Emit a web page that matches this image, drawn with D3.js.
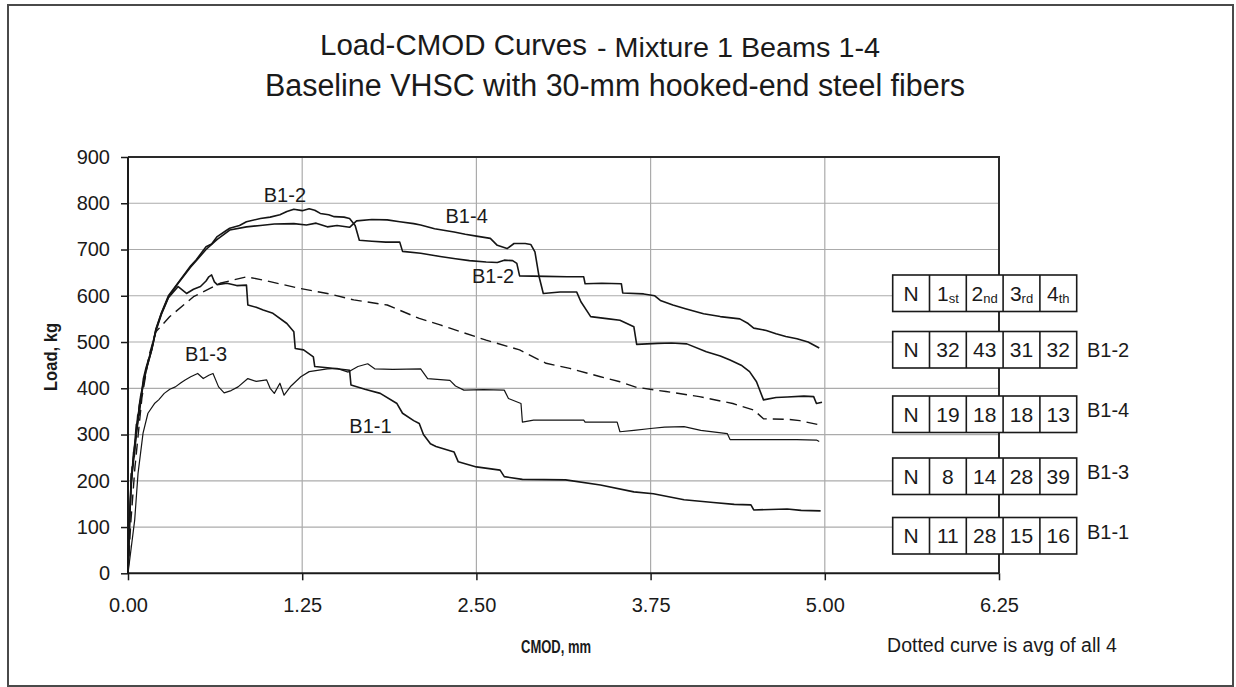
<!DOCTYPE html>
<html>
<head>
<meta charset="utf-8">
<script src="https://cdn.jsdelivr.net/npm/d3@7"></script>
<style>
  html, body { margin: 0; padding: 0; background: #fff; }
  svg { display: block; }
  text { font-family: "Liberation Sans", Arial, Helvetica, sans-serif; fill: #1a1a1a; }
</style>
</head>
<body>
<svg id="chart" width="1236" height="687"></svg>
<script>
// ---- data: CMOD (mm) vs load (kg) for each beam ----
const xTickValues = [0, 1.25, 2.5, 3.75, 5, 6.25];
const yTickValues = [0, 100, 200, 300, 400, 500, 600, 700, 800, 900];

const beamB12 = [
  [0,0],[0.01,110],[0.025,215],[0.02,180],[0.04,262],[0.035,232],[0.06,322],[0.055,292],[0.085,372],[0.08,342],
  [0.11,420],[0.13,445],[0.17,485],[0.2,528],[0.24,563],[0.29,600],[0.36,628],[0.45,665],[0.49,678],[0.56,706],
  [0.6,712],[0.64,728],[0.7,740],[0.73,746],[0.8,752],[0.85,760],[0.95,767],[1.02,770],[1.09,775],[1.14,782],
  [1.19,787],[1.25,784],[1.3,788],[1.34,785],[1.38,778],[1.44,775],[1.48,771],[1.55,770],[1.59,767],[1.63,752],
  [1.66,720],[1.75,718],[1.85,716],[1.95,716],[1.97,696],[2.1,692],[2.24,685],[2.35,680],[2.45,676],[2.57,673],
  [2.65,672],[2.7,677],[2.76,676],[2.79,670],[2.81,643],[3.0,642],[3.15,641],[3.27,641],[3.28,626],[3.4,627],
  [3.54,626],[3.55,606],[3.7,604],[3.78,600],[3.82,590],[3.91,580],[4.0,572],[4.13,561],[4.25,555],[4.39,550],
  [4.45,540],[4.49,530],[4.58,525],[4.65,518],[4.72,512],[4.8,507],[4.88,500],[4.96,487]
];

const beamB14 = [
  [0,0],[0.012,120],[0.03,230],[0.025,200],[0.05,282],[0.045,252],[0.07,342],[0.065,312],[0.09,382],[0.13,440],
  [0.17,483],[0.2,526],[0.24,562],[0.29,597],[0.36,627],[0.45,662],[0.49,676],[0.56,700],[0.64,722],[0.73,742],
  [0.85,749],[0.95,752],[1.05,755],[1.19,756],[1.28,753],[1.35,757],[1.43,749],[1.5,752],[1.59,748],[1.64,762],
  [1.75,765],[1.86,764],[1.95,760],[2.05,756],[2.1,753],[2.2,745],[2.34,738],[2.42,733],[2.5,729],[2.6,724],
  [2.65,709],[2.72,702],[2.77,713],[2.85,713],[2.89,711],[2.92,695],[2.95,641],[2.98,605],[3.1,608],[3.22,608],
  [3.25,587],[3.32,555],[3.45,550],[3.53,547],[3.63,533],[3.65,495],[3.8,497],[3.9,498],[4.01,496],[4.15,479],
  [4.25,470],[4.32,461],[4.4,450],[4.46,436],[4.51,414],[4.56,375],[4.65,380],[4.73,381],[4.85,383],[4.92,382],
  [4.94,367],[4.98,370]
];

const beamB13 = [
  [0,0],[0.048,115],[0.072,216],[0.108,303],[0.143,346],[0.19,367],[0.22,375],[0.26,389],[0.3,398],[0.34,403],
  [0.38,412],[0.41,418],[0.45,425],[0.5,432],[0.54,421],[0.58,428],[0.61,432],[0.65,403],[0.69,390],[0.74,395],
  [0.79,403],[0.86,421],[0.92,415],[0.995,418],[1.02,400],[1.05,389],[1.09,411],[1.12,385],[1.17,405],[1.24,425],
  [1.3,436],[1.43,442],[1.5,443],[1.58,435],[1.65,447],[1.72,453],[1.77,442],[1.9,441],[2.1,442],[2.15,421],
  [2.31,417],[2.35,405],[2.41,396],[2.55,397],[2.7,396],[2.73,378],[2.82,367],[2.83,327],[2.91,331],[3.1,331],
  [3.27,331],[3.28,327],[3.51,327],[3.53,306],[3.63,309],[3.75,313],[3.85,316],[3.99,317],[4.11,309],[4.3,302],
  [4.32,289],[4.58,289],[4.8,289],[4.94,288],[4.96,285]
];

const beamB11 = [
  [0,0],[0.012,115],[0.024,216],[0.02,190],[0.048,274],[0.04,250],[0.084,367],[0.13,439],[0.17,483],[0.2,524],
  [0.24,560],[0.29,596],[0.36,620],[0.42,605],[0.47,614],[0.52,620],[0.56,632],[0.58,641],[0.6,645],[0.62,630],
  [0.64,624],[0.71,627],[0.78,622],[0.85,623],[0.86,580],[0.92,575],[0.97,569],[1.04,562],[1.14,540],[1.19,522],
  [1.2,486],[1.26,483],[1.33,468],[1.34,447],[1.45,444],[1.59,439],[1.6,407],[1.7,398],[1.81,389],[1.93,367],
  [1.97,346],[2.05,330],[2.09,324],[2.12,300],[2.17,280],[2.21,274],[2.34,262],[2.37,241],[2.5,230],[2.67,223],
  [2.7,209],[2.83,203],[3.14,202],[3.39,191],[3.63,176],[3.77,172],[3.99,159],[4.2,153],[4.35,149],[4.47,148],
  [4.49,137],[4.73,139],[4.83,136],[4.97,135]
];

const beamAverage = [
  [0,0],[0.02,110],[0.05,230],[0.1,380],[0.15,470],[0.2,522],[0.3,555],[0.47,598],[0.66,627],[0.85,641],
  [0.97,634],[1.1,625],[1.23,616],[1.43,605],[1.62,591],[1.86,580],[2.09,551],[2.24,537],[2.31,530],[2.57,504],
  [2.81,483],[3.0,454],[3.17,443],[3.39,425],[3.53,414],[3.65,402],[3.86,393],[4.1,382],[4.34,367],[4.49,353],
  [4.56,334],[4.73,333],[4.82,330],[4.96,321]
];

const tableHeader = [["N",""],["1","st"],["2","nd"],["3","rd"],["4","th"]];
const tableBeams = ["B1-2", "B1-4", "B1-3", "B1-1"];
const tableCounts = [
  [32, 43, 31, 32],
  [19, 18, 18, 13],
  [8, 14, 28, 39],
  [11, 28, 15, 16]
];

// ---- layout ----
const svg = d3.select("#chart");
const plot = { left: 128, right: 999, top: 157, bottom: 573.3 };

const x = d3.scaleLinear().domain([0, 6.25]).range([plot.left, plot.right]);
const y = d3.scaleLinear().domain([0, 900]).range([plot.bottom, plot.top]);

// outer frame
svg.append("rect")
  .attr("x", 8).attr("y", 5).attr("width", 1225).attr("height", 681)
  .attr("fill", "#fff").attr("stroke", "#4a4a4a").attr("stroke-width", 2);

// titles
svg.append("text").attr("x", 320).attr("y", 55).attr("font-size", 30)
  .attr("textLength", 267).attr("lengthAdjust", "spacingAndGlyphs")
  .text("Load-CMOD Curves");
svg.append("text").attr("x", 597).attr("y", 57).attr("font-size", 28)
  .attr("textLength", 283).attr("lengthAdjust", "spacingAndGlyphs")
  .text("- Mixture 1 Beams 1-4");
svg.append("text").attr("x", 265).attr("y", 96).attr("font-size", 31)
  .attr("textLength", 700).attr("lengthAdjust", "spacingAndGlyphs")
  .text("Baseline VHSC with 30-mm hooked-end steel fibers");

// gridlines
const grid = svg.append("g");
grid.selectAll(".gy").data(yTickValues.filter(v => v > 0 && v < 900)).join("line")
  .attr("x1", plot.left).attr("x2", plot.right)
  .attr("y1", d => y(d)).attr("y2", d => y(d))
  .attr("stroke", "#ababab").attr("stroke-width", 1.2);
grid.selectAll(".gx").data(xTickValues.filter(v => v > 0 && v < 6.25)).join("line")
  .attr("x1", d => x(d)).attr("x2", d => x(d))
  .attr("y1", plot.top).attr("y2", plot.bottom)
  .attr("stroke", "#ababab").attr("stroke-width", 1.2);

// plot frame (top and right)
svg.append("path")
  .attr("d", `M${plot.left},${plot.top}H${plot.right}V${plot.bottom}`)
  .attr("fill", "none").attr("stroke", "#2a2a2a").attr("stroke-width", 2);

// axes
const yAxis = svg.append("g").attr("transform", `translate(${plot.left},0)`)
  .call(d3.axisLeft(y).tickValues(yTickValues).tickSize(7).tickPadding(11).tickFormat(d3.format("d")));
const xAxis = svg.append("g").attr("transform", `translate(0,${plot.bottom})`)
  .call(d3.axisBottom(x).tickValues(xTickValues).tickSize(7).tickPadding(18).tickFormat(d3.format(".2f")));
[yAxis, xAxis].forEach(a => {
  a.select(".domain").attr("stroke", "#1a1a1a").attr("stroke-width", 2);
  a.selectAll(".tick line").attr("stroke", "#1a1a1a").attr("stroke-width", 1.5);
  a.selectAll(".tick text").attr("font-size", 20).attr("fill", "#1a1a1a")
    .style("font-family", '"Liberation Sans", Arial, sans-serif');
});
yAxis.select(".domain").attr("d", `M0,${plot.top}V${plot.bottom}`);
xAxis.select(".domain").attr("d", `M${plot.left},0H${plot.right}`);

// axis titles
svg.append("text").attr("transform", `translate(57,357) rotate(-90)`)
  .attr("text-anchor", "middle").attr("font-size", 19).attr("font-weight", "bold")
  .attr("textLength", 68).attr("lengthAdjust", "spacingAndGlyphs")
  .text("Load, kg");
svg.append("text").attr("x", 556).attr("y", 653).attr("text-anchor", "middle")
  .attr("font-size", 19).attr("font-weight", "bold")
  .attr("textLength", 70).attr("lengthAdjust", "spacingAndGlyphs")
  .text("CMOD, mm");
svg.append("text").attr("x", 1002).attr("y", 652).attr("text-anchor", "middle")
  .attr("font-size", 19.5).text("Dotted curve is avg of all 4");

// count tables
const table = { left: 892.7, colW: 36.8, rowH: 36.5, tops: [275, 331.5, 396, 458, 517.5] };
const rows = [tableHeader].concat(tableCounts.map(r => [["N", ""]].concat(r.map(v => [String(v), ""]))));
const tg = svg.append("g");
rows.forEach((cells, i) => {
  const top = table.tops[i];
  const g = tg.append("g");
  g.append("rect").attr("x", table.left).attr("y", top)
    .attr("width", table.colW * cells.length).attr("height", table.rowH)
    .attr("fill", "#fff").attr("stroke", "#1a1a1a").attr("stroke-width", 1.6);
  g.selectAll("line").data(d3.range(1, cells.length)).join("line")
    .attr("x1", k => table.left + k * table.colW).attr("x2", k => table.left + k * table.colW)
    .attr("y1", top).attr("y2", top + table.rowH)
    .attr("stroke", "#1a1a1a").attr("stroke-width", 1.6);
  cells.forEach((c, k) => {
    const t = g.append("text").attr("x", table.left + (k + 0.5) * table.colW)
      .attr("y", top + table.rowH / 2 + 7.5).attr("text-anchor", "middle").attr("font-size", 21);
    t.append("tspan").text(c[0]);
    if (c[1]) t.append("tspan").attr("font-size", 13).attr("dy", 2).text(c[1]);
  });
  if (i > 0) {
    svg.append("text").attr("x", 1087).attr("y", top + table.rowH / 2 + 7 - (i === 1 ? 0 : 4))
      .attr("font-size", 20).text(tableBeams[i - 1]);
  }
});

// curves
const line = d3.line().x(d => x(d[0])).y(d => y(d[1]));
const curves = [
  { pts: beamB12, w: 1.6, dash: null },
  { pts: beamB14, w: 1.6, dash: null },
  { pts: beamB11, w: 1.6, dash: null },
  { pts: beamB13, w: 1.2, dash: null },
  { pts: beamAverage, w: 1.4, dash: "11,6" }
];
svg.append("g").selectAll("path").data(curves).join("path")
  .attr("d", d => line(d.pts))
  .attr("fill", "none").attr("stroke", "#151515")
  .attr("stroke-width", d => d.w)
  .attr("stroke-dasharray", d => d.dash)
  .attr("stroke-linejoin", "round");

// curve labels (placed in data units)
const curveLabels = [
  { text: "B1-2", cmod: 1.126, load: 818 },
  { text: "B1-4", cmod: 2.43, load: 772 },
  { text: "B1-2", cmod: 2.62, load: 643 },
  { text: "B1-3", cmod: 0.56, load: 474 },
  { text: "B1-1", cmod: 1.74, load: 318 }
];
svg.append("g").selectAll("text").data(curveLabels).join("text")
  .attr("x", d => x(d.cmod)).attr("y", d => y(d.load) + 7)
  .attr("text-anchor", "middle").attr("font-size", 20)
  .text(d => d.text);
</script>
</body>
</html>
